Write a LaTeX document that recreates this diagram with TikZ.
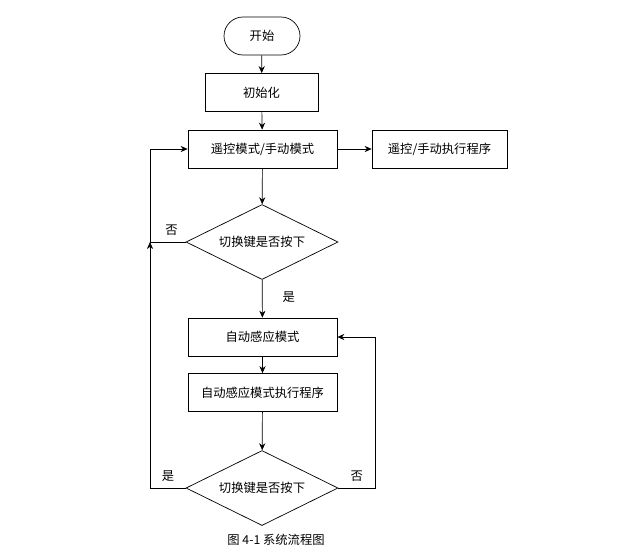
\documentclass[tikz,border=0pt]{standalone}
\usepackage{fontspec}
\setmainfont{Noto Sans CJK SC}
\usetikzlibrary{shapes.geometric,arrows.meta}
\tikzset{
  procbox/.style={draw,thin,minimum width=2.98cm,minimum height=0.76cm,inner sep=0pt},
  decide/.style={draw,thin,diamond,aspect=2,minimum width=3.04cm,minimum height=1.5cm,inner sep=0pt},
  flow/.style={-{Stealth[length=4pt,width=3.5pt]},thin}
}
\begin{document}
\begin{tikzpicture}[x=0.02cm,y=-0.02cm,font=\fontsize{7}{8}\selectfont]
  \useasboundingbox (0,0) rectangle (617,555);
  \node[draw,thin,rounded corners=0.38cm,minimum width=1.52cm,minimum height=0.76cm] (start) at (262,36) {开始};
  \node[procbox,minimum width=2.26cm] (init) at (261.5,92.5) {初始化};
  \node[procbox] (manual) at (262.5,149) {遥控模式/手动模式};
  \node[procbox,minimum width=2.7cm] (manrun) at (439.5,149) {遥控/手动执行程序};
  \node[decide] (sw1) at (262,242) {切换键是否按下};
  \node[procbox] (auto) at (262.5,337) {自动感应模式};
  \node[procbox] (autorun) at (262.5,392.5) {自动感应模式执行程序};
  \node[decide] (sw2) at (262,488) {切换键是否按下};
  \node (cap) at (276,540) {图 4-1 系统流程图};
  \coordinate (lt) at (150,149);
  \coordinate (lm) at (150,242);
  \coordinate (lb) at (150,488);
  \coordinate (rb) at (375,488);
  \coordinate (rt) at (375,337);
  % main line
  \draw[flow] (start) -- (init);
  \draw[flow] (init) -- (manual);
  \draw[flow] (manual) -- (manrun);
  \draw[flow] (manual) -- (sw1);
  \draw[flow] (sw1) -- node[right,pos=0.45,xshift=8pt] {是} (auto);
  \draw[flow] (auto) -- (autorun);
  \draw[flow] (autorun) -- (sw2);
  % loops back
  \draw[flow] (sw1.west) -- node[above,pos=0.4] {否} (lm) -- (lt) -- (manual.west);
  \draw[flow] (sw2.west) -- node[above,pos=0.2,xshift=-6pt] {是} (lb) -- (lm);
  \draw[flow] (sw2.east) -- node[above,pos=0.5] {否} (rb) -- (rt) -- (auto.east);
\end{tikzpicture}
\end{document}
